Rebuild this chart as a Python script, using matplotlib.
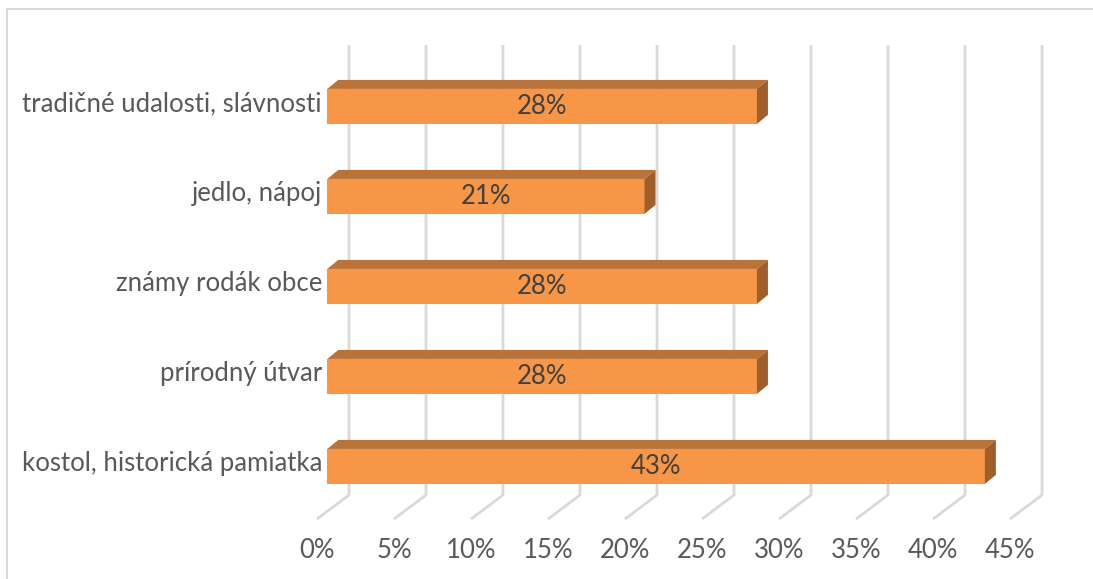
import matplotlib.pyplot as plt
from matplotlib.patches import Polygon, Rectangle

# data (bottom to top)
kategorie = ['kostol, historická pamiatka', 'prírodný útvar', 'známy rodák obce',
             'jedlo, nápoj', 'tradičné udalosti, slávnosti']
hodnoty = [42.7, 27.9, 27.9, 20.6, 27.9]
ticky = [0, 5, 10, 15, 20, 25, 30, 35, 40, 45]

plt.rcParams['font.family'] = ['Lato', 'DejaVu Sans']
FS = 18.5

# 3D geometry (in data units: % horizontally, category index vertically)
BAR_H = 0.194      # half height of bar
BAR_DX, BAR_DY = 0.714, 0.10     # depth of a bar
WALL_DX = 1.41     # back wall offset from bar front plane
GRID_TOP, GRID_BOT = 4.682, -0.318
FLOOR_DX, FLOOR_DY = -2.08, -0.267

c_front = '#F79646'
c_top = '#B97338'
c_side = '#9E5F2B'
c_grid = '#D9D9D9'

fig = plt.figure(figsize=(10.93, 5.79), dpi=100)
ax = fig.add_axes([0, 0, 1, 1])
ax.set_xlim(-21.25, 49.72)
ax.set_ylim(-1.251, 5.182)
ax.axis('off')

# gridlines on the back wall + floor diagonals
for t in ticky:
    xb = t + WALL_DX
    ax.plot([xb, xb, xb + FLOOR_DX], [GRID_TOP, GRID_BOT, GRID_BOT + FLOOR_DY],
            color=c_grid, lw=2, solid_capstyle='butt', zorder=1)
    ax.text(xb + FLOOR_DX, -0.93, f'{t}%', ha='center', va='center',
            fontsize=FS, color='#595959')

# bars
for i, (k, v) in enumerate(zip(kategorie, hodnoty)):
    y0, y1 = i - BAR_H, i + BAR_H
    front = Rectangle((0, y0), v, 2 * BAR_H, facecolor=c_front, edgecolor='none', zorder=3)
    top = Polygon([(0, y1), (v, y1), (v + BAR_DX, y1 + BAR_DY), (BAR_DX, y1 + BAR_DY)],
                  closed=True, facecolor=c_top, edgecolor='none', zorder=3)
    side = Polygon([(v, y0), (v, y1), (v + BAR_DX, y1 + BAR_DY), (v + BAR_DX, y0 + BAR_DY)],
                   closed=True, facecolor=c_side, edgecolor='none', zorder=3)
    for p in (front, top, side):
        ax.add_patch(p)
    ax.text(v / 2, i, f'{round(v)}%', ha='center', va='center',
            fontsize=FS, color='#404040', zorder=4)
    ax.text(-0.35, i + 0.03, k, ha='right', va='center', fontsize=FS, color='#595959')

# chart area border (only top and left visible)
bx, by = 6.5 / 1093, 1 - 9 / 579
ax.plot([bx, bx, 1], [0, by, by], transform=ax.transAxes, color='#D9D9D9', lw=1.5)

fig.savefig('out.png', dpi=100)
